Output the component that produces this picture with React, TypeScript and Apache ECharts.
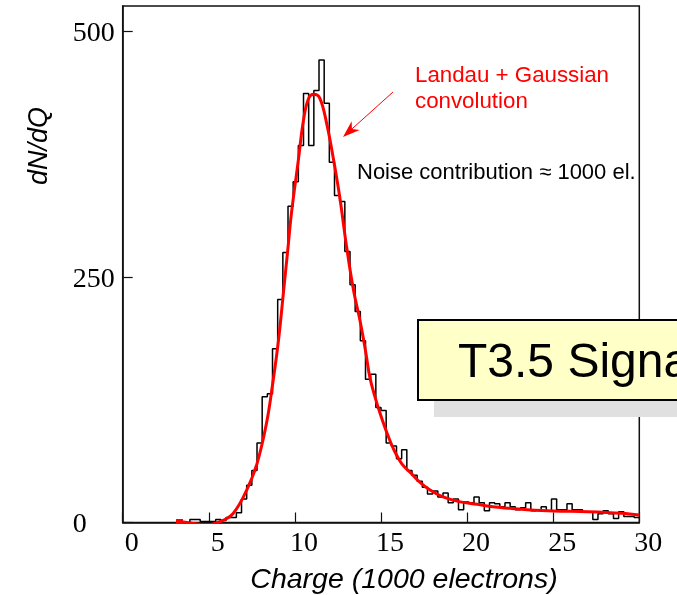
import React, { useEffect, useRef } from "react";
import * as echarts from "echarts";

// Histogram: bins of 0.3 (1000 electrons), first bin starts at 3.9
const binStart = 3.9;
const binWidth = 0.3;
const counts = [
  3, 3, 1, 1, 1, 3, 2, 5, 5, 10,
  24, 38, 53, 81, 128, 131, 177, 227, 275, 322,
  347, 384, 437, 384, 440, 471, 427, 367, 333, 327,
  276, 242, 215, 185, 146, 151, 117, 114, 81, 78,
  65, 74, 53, 48, 42, 36, 29, 32, 26, 30,
  20, 24, 13, 21, 20, 26, 20, 12, 20, 19,
  16, 20, 16, 13, 15, 20, 12, 13, 16, 12,
  24, 13, 13, 19, 13, 13, 11, 11, 3, 9,
  12, 9, 4, 11, 6, 6, 5,
];

// Landau + Gaussian convolution fit
const fitX = [
  3.3, 4.1, 4.9, 5.65, 6.4, 7.2, 7.8, 8.35, 8.7, 9.05,
  9.35, 9.6, 9.8, 10.2, 10.5, 10.8, 11.1, 11.45, 11.85, 12.25,
  12.6, 13.0, 13.4, 13.8, 14.1, 14.35, 14.65, 14.95, 15.35, 15.75,
  16.2, 16.7, 17.2, 17.85, 18.6, 19.6, 20.6, 21.5, 22.5, 23.5,
  25, 27, 29, 30,
];
const fitY = [
  1, -1, -2.5, 0.8, 9, 33, 60, 101, 140, 186,
  237, 280, 315, 369, 410, 432, 436, 432, 406, 369,
  332, 281, 237, 204, 175, 148, 128, 111, 91, 74,
  60, 51, 42, 33, 26, 21, 18.5, 16, 14.4, 13,
  11.7, 11, 9.4, 7.6,
];

const xTickValues = [0, 5, 10, 15, 20, 25, 30];
const yTickValues = [0, 250, 500];
const xName = "Charge (1000 electrons)";
const yName = "dN/dQ";
const fitLabel = "Landau + Gaussian\nconvolution";
const noiseLabel = "Noise contribution \u2248 1000 el.";
const boxLabel = "T3.5 Signal";

export default function App() {
  const ref = useRef<HTMLDivElement>(null);
  useEffect(() => {
    const chart = echarts.init(ref.current!, null, { renderer: "svg" });

    const hist: any[] = [[binStart, 0]];
    counts.forEach((c, i) => hist.push([+(binStart + i * binWidth).toFixed(2), c]));
    hist.push([+(binStart + counts.length * binWidth).toFixed(2), counts[counts.length - 1]]);

    const fit: any[] = fitX.map((x, i) =>
      i === 0
        ? { value: [x, fitY[i]], symbol: "rect", symbolSize: [7, 5] }
        : { value: [x, fitY[i]], symbol: "none" }
    );

    // arrow geometry
    const tail = [393, 92];
    const tip = [343, 137];
    const dx = tip[0] - tail[0];
    const dy = tip[1] - tail[1];
    const len = Math.sqrt(dx * dx + dy * dy);
    const ux = dx / len;
    const uy = dy / len;
    const px = -uy;
    const py = ux;
    const headLen = 17;
    const headW = 6;
    const base = [tip[0] - headLen * ux, tip[1] - headLen * uy];
    const notch = [tip[0] - 12 * ux, tip[1] - 12 * uy];

    chart.setOption({
      animation: false,
      grid: {
        left: 122.7,
        top: 6,
        right: 37.7,
        bottom: 72.5,
        show: true,
        borderColor: "#111",
        borderWidth: 1.5,
        backgroundColor: "transparent",
      },
      xAxis: {
        type: "value",
        min: 0,
        max: 30,
        interval: 5,
        splitLine: { show: false },
        axisLine: { show: true, onZero: false, lineStyle: { color: "#111", width: 1.5 } },
        axisTick: { show: true, inside: true, length: 10, lineStyle: { color: "#111", width: 1.2 } },
        axisLabel: {
          color: "#000",
          fontFamily: "Liberation Serif",
          fontSize: 28,
          margin: 5,
          padding: [0, 0, 0, 18],
          formatter: (v: number) => (xTickValues.includes(v) ? String(v) : ""),
        },
      },
      yAxis: {
        type: "value",
        min: 0,
        max: 526,
        interval: 250,
        splitLine: { show: false },
        axisLine: { show: true, onZero: false, lineStyle: { color: "#111", width: 1.5 } },
        axisTick: { show: true, inside: true, length: 10, lineStyle: { color: "#111", width: 1.2 } },
        axisLabel: {
          color: "#000",
          fontFamily: "Liberation Serif",
          fontSize: 28,
          margin: 50,
          align: "left",
          showMaxLabel: false,
          formatter: (v: number) => (yTickValues.includes(v) ? String(v) : ""),
        },
      },
      series: [
        {
          type: "line",
          data: hist,
          step: "end",
          symbol: "none",
          lineStyle: { color: "#000", width: 1.5 },
          z: 2,
        },
        {
          type: "line",
          data: fit,
          smooth: 0.4,
          showSymbol: true,
          symbol: "none",
          itemStyle: { color: "#ff0000" },
          lineStyle: { color: "#ff0000", width: 3 },
          z: 3,
        },
      ],
      graphic: [
        {
          type: "text",
          x: 404,
          y: 578,
          style: {
            text: xName,
            font: "italic 28.5px 'Liberation Sans'",
            fill: "#000",
            align: "center",
            verticalAlign: "middle",
          },
        },
        {
          type: "text",
          x: 37.5,
          y: 146,
          rotation: Math.PI / 2,
          style: {
            text: yName,
            font: "italic 27px 'Liberation Sans'",
            fill: "#000",
            align: "center",
            verticalAlign: "middle",
          },
        },
        {
          type: "text",
          x: 415,
          y: 61,
          style: {
            text: fitLabel,
            font: "22.3px 'Liberation Sans'",
            lineHeight: 26,
            fill: "#ff0000",
            align: "left",
            verticalAlign: "top",
          },
        },
        {
          type: "line",
          shape: { x1: tail[0], y1: tail[1], x2: notch[0], y2: notch[1] },
          style: { stroke: "#ff0000", lineWidth: 1 },
        },
        {
          type: "polygon",
          shape: {
            points: [
              tip,
              [base[0] + headW * px, base[1] + headW * py],
              notch,
              [base[0] - headW * px, base[1] - headW * py],
            ],
          },
          style: { fill: "#ff0000" },
        },
        {
          type: "text",
          x: 357,
          y: 171,
          style: {
            text: noiseLabel,
            font: "22px 'Liberation Sans'",
            fill: "#000",
            align: "left",
            verticalAlign: "middle",
          },
        },
        {
          type: "rect",
          z: 100,
          shape: { x: 434, y: 336, width: 300, height: 81 },
          style: { fill: "#e0e0e0" },
        },
        {
          type: "rect",
          z: 101,
          shape: { x: 418, y: 320, width: 300, height: 80 },
          style: { fill: "#ffffc8", stroke: "#000", lineWidth: 2 },
        },
        {
          type: "text",
          z: 102,
          x: 458,
          y: 360,
          style: {
            text: boxLabel,
            font: "48px 'Liberation Sans'",
            fill: "#000",
            align: "left",
            verticalAlign: "middle",
          },
        },
      ],
    });
    return () => chart.dispose();
  }, []);
  return (
    <div
      ref={ref}
      style={{ position: "fixed", left: 0, top: 0, width: 677, height: 595 }}
    />
  );
}
